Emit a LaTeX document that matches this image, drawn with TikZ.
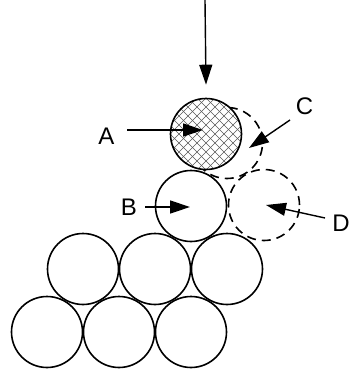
\documentclass[tikz,border=0pt]{standalone}
\usepackage{fontspec}
\setmainfont{Liberation Sans}
\usetikzlibrary{arrows.meta,calc}

\begin{document}
\begin{tikzpicture}[x=1pt,y=-1pt,
  ball/.style={draw,circle,line width=1.6pt,minimum size=71pt,inner sep=0pt},
  ghost/.style={ball,dash pattern=on 9pt off 6pt},
  hatchln/.style={line width=0.7pt,color=black!65},
  arr/.style={line width=1.4pt,-{Triangle[length=20pt,width=13pt]}},
  lbl/.style={font=\fontsize{24}{28}\selectfont,inner sep=0pt}
]
\useasboundingbox (0,0) rectangle (349,375);
% bottom row
\node[ball] (r1a) at (47,332) {};
\node[ball] (r1b) at (119,332) {};
\node[ball] (r1c) at (191,332) {};
% middle row
\node[ball] (r2a) at (83,269) {};
\node[ball] (r2b) at (155,269) {};
\node[ball] (r2c) at (227,269) {};
% upper balls
\node[ball] (B) at (191,206) {};
\node[ghost] (D) at (264,205) {};
\node[ghost] (C) at (227,143) {};
\node[ball,fill=white,path picture={
    \foreach \c in {-99,-90,...,99} {
      \draw[hatchln] ($(path picture bounding box.center)+(\c-50,-50)$) -- ++(100,100);
      \draw[hatchln] ($(path picture bounding box.center)+(\c-50,50)$) -- ++(100,-100);
    }}] (A) at (206,134) {};
% labels
\node[lbl] (lA) at (106.5,136.5) {A};
\node[lbl] (lB) at (129,207.5) {B};
\node[lbl] (lC) at (304.5,106) {C};
\node[lbl] (lD) at (341,223) {D};
% arrows
\coordinate (top) at (205,0);
\coordinate (tailA) at (127,130);
\coordinate (tipA) at (203,130);
\coordinate (tailB) at (145,207);
\coordinate (tipB) at (190,207);
\coordinate (tailC) at (290,120);
\coordinate (tipC) at (249,148);
\coordinate (tailD) at (325,218);
\coordinate (tipD) at (266,205);
\draw[arr] (top) -- ([yshift=13pt]A.north);
\draw[arr] (tailA) -- (tipA);
\draw[arr] (tailB) -- (tipB);
\draw[arr] (tailC) -- (tipC);
\draw[arr] (tailD) -- (tipD);
\end{tikzpicture}
\end{document}
